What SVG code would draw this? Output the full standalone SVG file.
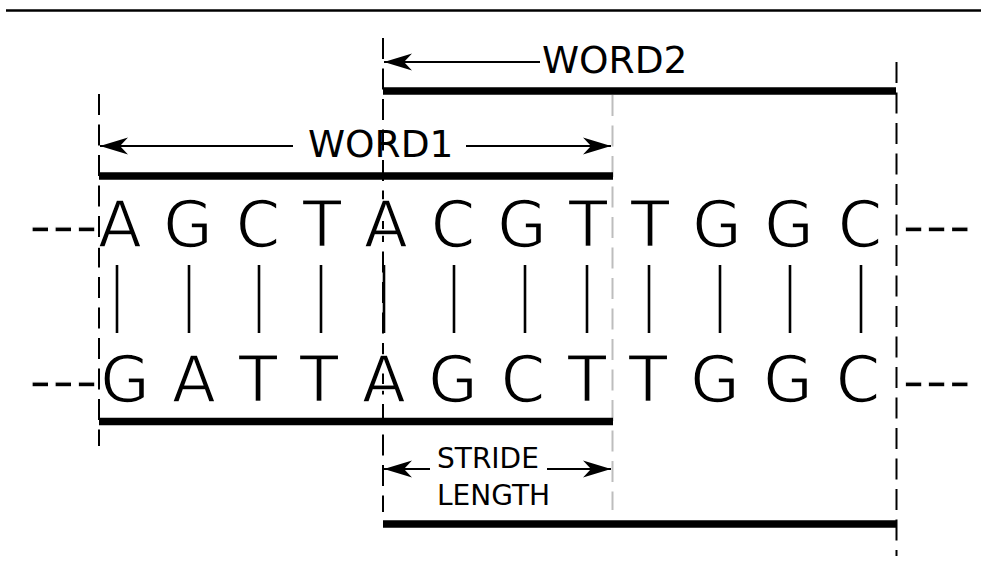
<svg xmlns="http://www.w3.org/2000/svg" width="981" height="566" viewBox="0 0 981 566">
  <style>
    .guide { stroke: #000; stroke-width: 2; fill: none; stroke-dasharray: 21 9.5; }
    .guide-grey { stroke: #bdbdbd; stroke-width: 2; fill: none; stroke-dasharray: 21 9.5; }
    .bar { stroke: #000; stroke-width: 7.5; fill: none; }
    .dim { stroke: #000; stroke-width: 2; fill: none; marker-end: url(#ah); }
    .pair { stroke: #000; stroke-width: 2.6; }
    .label { font-family: "DejaVu Sans", sans-serif; fill: #000; }
    /* thin white outline slims the large glyph strokes */
    .base { font-family: "DejaVu Sans", sans-serif; font-size: 64px; fill: #000; text-anchor: middle; stroke: #fff; stroke-width: 1.6px; }
    .ellipsis { font-family: "DejaVu Sans", sans-serif; font-size: 64px; fill: #000; stroke: #fff; stroke-width: 1.4px; }
  </style>
  <defs>
    <marker id="ah" markerUnits="userSpaceOnUse" viewBox="-30 -10 32 20" markerWidth="32" markerHeight="20" refX="0" refY="0" orient="auto">
      <path d="M0,0 L-28,-8.5 L-20,0 L-28,8.5 Z" fill="#000"/>
    </marker>
  </defs>

  <rect width="981" height="566" fill="#fff"/>

  <!-- header rule -->
  <line id="header-rule" x1="6" y1="10.5" x2="981" y2="10.5" stroke="#000" stroke-width="2.4"/>

  <!-- window boundary guides -->
  <g id="guides">
    <line class="guide" x1="99" y1="94" x2="99" y2="446"/>
    <line class="guide" x1="383" y1="34" x2="383" y2="512" stroke-dashoffset="-4"/>
    <line class="guide-grey" x1="612.5" y1="95" x2="612.5" y2="510"/>
    <line class="guide" x1="896.5" y1="62" x2="896.5" y2="556"/>
  </g>

  <!-- word extent bars -->
  <g id="bars">
    <line id="word2-top" class="bar" x1="383" y1="91" x2="896" y2="91"/>
    <line id="word1-top" class="bar" x1="99" y1="176" x2="613" y2="176"/>
    <line id="word1-bottom" class="bar" x1="99" y1="421.5" x2="613" y2="421.5"/>
    <line id="word2-bottom" class="bar" x1="383" y1="524" x2="896" y2="524"/>
  </g>

  <!-- dimension arrows -->
  <g id="connectors">
    <path class="dim" d="M540,62 H384"/>
    <path class="dim" d="M293,146 H100"/>
    <path class="dim" d="M466,146 H611"/>
    <path class="dim" d="M430,469 H384"/>
    <path class="dim" d="M547,469 H611"/>
  </g>

  <!-- dimension labels -->
  <g id="word2-label">
    <text class="label" x="542" y="73" font-size="37.5">WORD2</text>
  </g>
  <g id="word1-label">
    <text class="label" x="308" y="157" font-size="37.5">WORD1</text>
  </g>
  <g id="stride-label">
    <text class="label" x="437" y="468" font-size="28">STRIDE</text>
    <text class="label" x="437" y="505" font-size="28">LENGTH</text>
  </g>

  <!-- upper sequence -->
  <g id="seq-top">
    <text class="ellipsis" x="98" y="247" text-anchor="end">---</text>
    <text class="base" x="120" y="247">A</text>
    <text class="base" x="188" y="247">G</text>
    <text class="base" x="258" y="247">C</text>
    <text class="base" x="322" y="247">T</text>
    <text class="base" x="386" y="247">A</text>
    <text class="base" x="453" y="247">C</text>
    <text class="base" x="522" y="247">G</text>
    <text class="base" x="588" y="247">T</text>
    <text class="base" x="650" y="247">T</text>
    <text class="base" x="717" y="247">G</text>
    <text class="base" x="789" y="247">G</text>
    <text class="base" x="860" y="247">C</text>
    <text class="ellipsis" x="902" y="247">---</text>
  </g>

  <!-- pairing ticks -->
  <g id="pairs">
    <line class="pair" x1="117" y1="265" x2="117" y2="333"/>
    <line class="pair" x1="189" y1="265" x2="189" y2="333"/>
    <line class="pair" x1="259" y1="265" x2="259" y2="333"/>
    <line class="pair" x1="321" y1="265" x2="321" y2="333"/>
    <line class="pair" x1="384" y1="265" x2="384" y2="333"/>
    <line class="pair" x1="454" y1="265" x2="454" y2="333"/>
    <line class="pair" x1="525" y1="265" x2="525" y2="333"/>
    <line class="pair" x1="587" y1="265" x2="587" y2="333"/>
    <line class="pair" x1="649" y1="265" x2="649" y2="333"/>
    <line class="pair" x1="720" y1="265" x2="720" y2="333"/>
    <line class="pair" x1="790" y1="265" x2="790" y2="333"/>
    <line class="pair" x1="861" y1="265" x2="861" y2="333"/>
  </g>

  <!-- lower sequence -->
  <g id="seq-bottom">
    <text class="ellipsis" x="98" y="402" text-anchor="end">---</text>
    <text class="base" x="125" y="402">G</text>
    <text class="base" x="194" y="402">A</text>
    <text class="base" x="258" y="402">T</text>
    <text class="base" x="319" y="402">T</text>
    <text class="base" x="384" y="402">A</text>
    <text class="base" x="453" y="402">G</text>
    <text class="base" x="523" y="402">C</text>
    <text class="base" x="587" y="402">T</text>
    <text class="base" x="648" y="402">T</text>
    <text class="base" x="715" y="402">G</text>
    <text class="base" x="788" y="402">G</text>
    <text class="base" x="858" y="402">C</text>
    <text class="ellipsis" x="902" y="402">---</text>
  </g>
</svg>
